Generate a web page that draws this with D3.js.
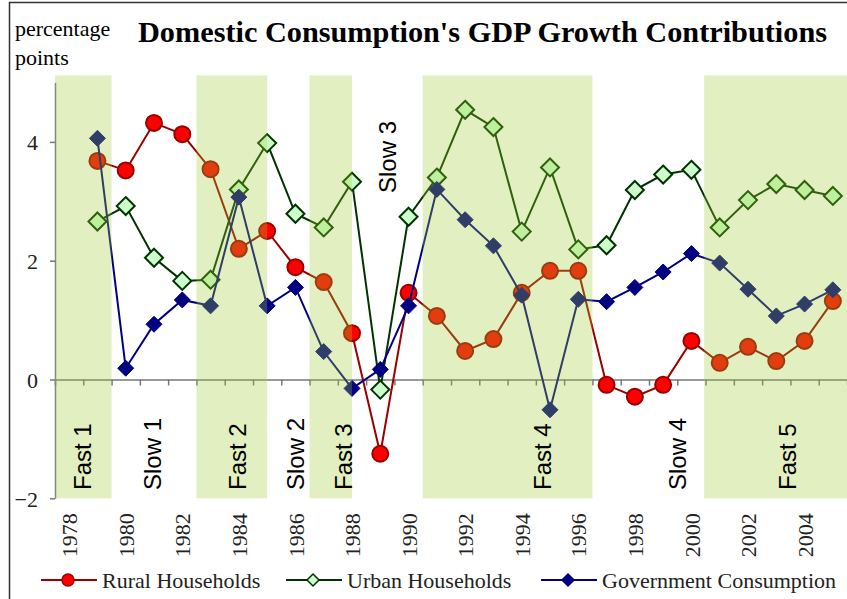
<!DOCTYPE html>
<meta charset="utf-8">
<script src="https://d3js.org/d3.v7.min.js"></script>
<style>
  body { margin: 0; background: #fff; }
</style>
<div id="chart"></div>
<script>

// ---- data ----
var years = [1979, 1980, 1981, 1982, 1983, 1984, 1985, 1986, 1987, 1988, 1989, 1990, 1991, 1992,
             1993, 1994, 1995, 1996, 1997, 1998, 1999, 2000, 2001, 2002, 2003, 2004, 2005];

var rural = [3.68, 3.52, 4.32, 4.13, 3.54, 2.20, 2.50, 1.89, 1.64, 0.78, -1.25, 1.46, 1.07, 0.48,
             0.68, 1.46, 1.83, 1.83, -0.09, -0.29, -0.09, 0.65, 0.28, 0.55, 0.31, 0.65, 1.32];

var urban = [2.66, 2.92, 2.05, 1.66, 1.68, 3.20, 3.98, 2.79, 2.56, 3.33, -0.17, 2.74, 3.40, 4.54,
             4.25, 2.49, 3.57, 2.19, 2.26, 3.19, 3.45, 3.53, 2.56, 3.02, 3.29, 3.19, 3.09];

var government = [4.06, 0.19, 0.93, 1.34, 1.24, 3.07, 1.24, 1.55, 0.47, -0.15, 0.17, 1.24, 3.20, 2.69,
                  2.25, 1.42, -0.51, 1.35, 1.31, 1.55, 1.81, 2.12, 1.96, 1.52, 1.07, 1.27, 1.51];

// fast growth periods (shaded), start/end in years
var fastPeriods = [
  { start: 1977.5, end: 1979.5 },
  { start: 1982.5, end: 1985.0 },
  { start: 1986.5, end: 1988.0 },
  { start: 1990.5, end: 1996.5 },
  { start: 2000.45, end: 2005.5 }
];

// period names and where they sit (year, value)
var periodNames = ["Fast 1", "Slow 1", "Fast 2", "Slow 2", "Fast 3", "Slow 3", "Fast 4", "Slow 4", "Fast 5"];
var periodYear  = [1978.45, 1980.93, 1983.93, 1985.98, 1987.68, 1989.24, 1994.72, 1999.52, 2003.38];
var periodValue = [-1.86, -1.86, -1.86, -1.86, -1.86, 3.14, -1.86, -1.86, -1.86];

var yTicks = [-2, 0, 2, 4];
var yearLabels = [1978, 1980, 1982, 1984, 1986, 1988, 1990, 1992, 1994, 1996, 1998, 2000, 2002, 2004];

var series = [
  { name: "Rural Households", values: rural, line: "#990000", fill: "#ff0000", stroke: "#990000", shape: "circle" },
  { name: "Urban Households", values: urban, line: "#003300", fill: "#ccffcc", stroke: "#003300", shape: "diamond" },
  { name: "Government Consumption", values: government, line: "#000080", fill: "#000080", stroke: "#000080", shape: "govdiamond" }
];

// ---- layout ----
var W = 847, H = 599;
var serif = "'Liberation Serif', 'Times New Roman', serif";
var sans = "'Liberation Sans', Arial, sans-serif";

var svg = d3.select("#chart").append("svg")
  .attr("width", W)
  .attr("height", H)
  .style("display", "block");

// frame
svg.append("rect")
  .attr("x", 9.5).attr("y", 2.5)
  .attr("width", W + 10).attr("height", H + 10)
  .attr("fill", "#fff")
  .attr("stroke", "#333")
  .attr("stroke-width", 1.5);

var x = d3.scaleLinear().domain([1977.5, 2005.5]).range([55, 847]);
var y = d3.scaleLinear().domain([-2, 5]).range([498.3, 82.5]);

// titles
svg.append("text")
  .attr("x", 138).attr("y", 42)
  .attr("font-family", serif).attr("font-weight", "bold").attr("font-size", 30)
  .attr("textLength", 689).attr("lengthAdjust", "spacingAndGlyphs")
  .text("Domestic Consumption's GDP Growth Contributions");

svg.append("text")
  .attr("x", 15).attr("y", 36)
  .attr("font-family", serif).attr("font-size", 22)
  .text("percentage");
svg.append("text")
  .attr("x", 15).attr("y", 65)
  .attr("font-family", serif).attr("font-size", 22)
  .text("points");

// y axis
var yAxis = svg.append("g")
  .attr("transform", "translate(" + x(1977.5) + ",0)")
  .call(d3.axisLeft(y).tickValues(yTicks).tickFormat(d3.format("d"))
    .tickSize(5).tickSizeOuter(0).tickPadding(12));
yAxis.select(".domain").attr("stroke", "#777").attr("stroke-width", 1.5);
yAxis.selectAll(".tick line").attr("stroke", "#777").attr("stroke-width", 1.5);
yAxis.selectAll("text")
  .attr("font-family", serif).attr("font-size", 22).attr("fill", "#222")
  .attr("dy", "0.35em");

// zero axis with category ticks
var boundaries = d3.range(1977.5, 2006, 1);
var xAxis = svg.append("g")
  .attr("transform", "translate(0," + y(0) + ")")
  .call(d3.axisBottom(x).tickValues(boundaries).tickFormat("").tickSize(6).tickSizeOuter(0));
xAxis.select(".domain").attr("stroke", "#777").attr("stroke-width", 1.5);
xAxis.selectAll(".tick line").attr("stroke", "#777").attr("stroke-width", 1.5);

// year labels under the plot
var labelAxis = svg.append("g")
  .attr("transform", "translate(0," + y(-2) + ")")
  .call(d3.axisBottom(x).tickValues(yearLabels).tickFormat(d3.format("d")).tickSize(0));
labelAxis.select(".domain").remove();
labelAxis.selectAll("text")
  .attr("font-family", serif).attr("font-size", 22).attr("fill", "#222")
  .attr("text-anchor", "end")
  .attr("transform", "rotate(-90)")
  .attr("x", -15).attr("y", 0).attr("dy", "0.35em");

// series
var line = d3.line()
  .x(function (d) { return x(d.year); })
  .y(function (d) { return y(d.value); });

function marker(sel, shape) {
  if (shape === "circle") {
    sel.append("circle").attr("r", 8);
  } else if (shape === "diamond") {
    sel.append("path").attr("d", "M0,-9L9,0L0,9L-9,0Z");
  } else {
    sel.append("path").attr("d", "M0,-8L8,0L0,8L-8,0Z");
  }
}

series.forEach(function (s) {
  var pts = years.map(function (yr, i) { return { year: yr, value: s.values[i] }; });
  var g = svg.append("g");
  g.append("path")
    .datum(pts)
    .attr("d", line)
    .attr("fill", "none")
    .attr("stroke", s.line)
    .attr("stroke-width", 2);
  var m = g.selectAll(".m")
    .data(pts)
    .enter()
    .append("g")
    .attr("transform", function (d) { return "translate(" + x(d.year) + "," + y(d.value) + ")"; });
  marker(m, s.shape);
  m.selectAll("circle, path")
    .attr("fill", s.fill)
    .attr("stroke", s.stroke)
    .attr("stroke-width", s.shape === "govdiamond" ? 1 : 2);
});

// shaded fast periods, laid over the lines
svg.append("g").selectAll("rect")
  .data(fastPeriods)
  .enter()
  .append("rect")
  .attr("x", function (d) { return x(d.start); })
  .attr("width", function (d) { return x(d.end) - x(d.start); })
  .attr("y", y(5.12))
  .attr("height", y(-2) - y(5.12))
  .attr("fill", "rgb(158,202,45)")
  .attr("fill-opacity", 0.3);

// period labels
svg.append("g").selectAll("text")
  .data(periodNames)
  .enter()
  .append("text")
  .attr("transform", function (d, i) {
    return "translate(" + x(periodYear[i]) + "," + y(periodValue[i]) + ") rotate(-90)";
  })
  .attr("dy", "0.36em")
  .attr("font-family", sans)
  .attr("font-size", 24)
  .attr("fill", "#000")
  .text(function (d) { return d; });

// legend
var legendX = [41, 286, 541];
var legend = svg.append("g").selectAll("g")
  .data(series)
  .enter()
  .append("g")
  .attr("transform", function (d, i) { return "translate(" + legendX[i] + ",580)"; });
legend.append("line")
  .attr("x1", 0).attr("x2", 56)
  .attr("stroke", function (d) { return d.line; })
  .attr("stroke-width", 2);
legend.each(function (d) {
  var g = d3.select(this).append("g").attr("transform", "translate(27,0)");
  if (d.shape === "circle") g.append("circle").attr("r", 6);
  else g.append("path").attr("d", "M0,-6L6,0L0,6L-6,0Z");
  g.selectAll("circle, path")
    .attr("fill", d.fill).attr("stroke", d.stroke).attr("stroke-width", 1.5);
});
legend.append("text")
  .attr("x", 61).attr("y", 8)
  .attr("font-family", serif).attr("font-size", 22).attr("fill", "#222")
  .text(function (d) { return d.name; });

</script>
